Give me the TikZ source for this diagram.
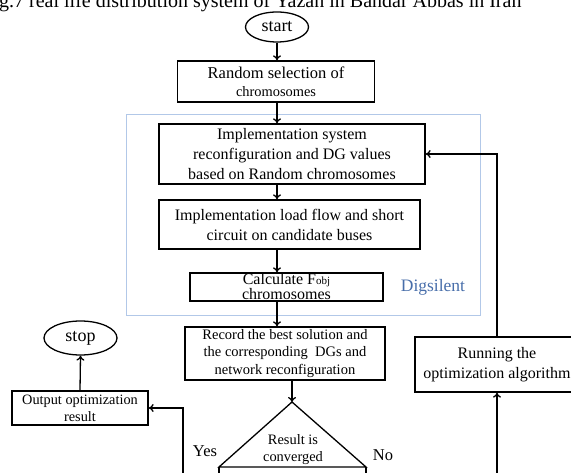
\documentclass[tikz,border=0pt]{standalone}
\usepackage{fontspec}
\setmainfont{Liberation Serif}
\usetikzlibrary{arrows.meta,positioning,shapes.geometric}
\definecolor{digblue}{RGB}{72,110,170}
\definecolor{framblue}{RGB}{178,200,232}

\begin{document}
\begin{tikzpicture}[x=1pt, y=-1pt,
  box/.style={draw, line width=1.3pt, align=center, inner sep=0pt,
    font=\fontsize{16}{20}\selectfont},
  term/.style={draw, ellipse, line width=1.3pt, inner sep=0pt,
    font=\fontsize{18}{20}\selectfont},
  flow/.style={-{To[length=5pt,width=8pt]}, line width=1.3pt}]
  \useasboundingbox (0,0) rectangle (571,473);
  \clip (0,0) rectangle (571,473);
  % caption, cut at the top
  \node[anchor=base west, inner sep=0pt, font=\fontsize{20}{24}\selectfont] (cap) at (-1,8)
    {g.7 real life distribution system of Yazan in Bandar Abbas in Iran};
  % Digsilent frame
  \node[draw=framblue, line width=0.8pt, minimum width=354pt, minimum height=201pt] (frame) at (303,214.5) {};
  \node[text=digblue, font=\fontsize{17.5}{20}\selectfont] (dig) at (433,287) {Digsilent};
  % main column
  \node[term, minimum width=63pt, minimum height=30pt] (start) at (277,27) {start};
  \node[box, minimum width=197pt, minimum height=41pt] (random) at (276,81.5)
    {\fontsize{16.5}{20}\selectfont Random selection of\\[-2pt]{\fontsize{14.4}{16}\selectfont chromosomes}};
  \node[box, minimum width=266pt, minimum height=60pt] (impl) at (292,154)
    {Implementation system\\reconfiguration and DG values\\based on Random chromosomes};
  \node[box, minimum width=261pt, minimum height=49pt] (load) at (289.5,224.5)
    {Implementation load flow and short\\circuit on candidate buses};
  \node[box, minimum width=193pt, minimum height=28pt, inner ysep=-2pt, font=\fontsize{16}{15}\selectfont] (calc) at (286.5,287)
    {Calculate F{\fontsize{11}{12}\selectfont obj}\\chromosomes};
  \node[box, minimum width=200pt, minimum height=53pt, font=\fontsize{14.5}{17.5}\selectfont] (record) at (285,353.5)
    {Record the best solution and\\the corresponding~~DGs and\\network reconfiguration};
  % decision
  \coordinate (dtop) at (292,402);
  \coordinate (dleft) at (219,467);
  \coordinate (dright) at (366,467);
  \draw[line width=1.3pt] (dtop) -- (dleft) -- (dright) -- cycle;
  \draw[line width=1.3pt] (dleft) -- ++(0,20) (dright) -- ++(0,20);
  \node[align=center, inner sep=0pt, font=\fontsize{14.4}{17}\selectfont] (conv) at (293,450) {Result is\\converged};
  \node[font=\fontsize{16.5}{18}\selectfont] (yes) at (205,451) {Yes};
  \node[font=\fontsize{16.5}{18}\selectfont] (no) at (383,455) {No};
  % left side
  \node[box, minimum width=136pt, minimum height=34pt, font=\fontsize{14.3}{17}\selectfont] (output) at (80,408)
    {Output optimization\\result};
  \node[term, minimum width=73pt, minimum height=34pt] (stop) at (80.5,338) {stop};
  % right side
  \node[box, minimum width=164pt, minimum height=55pt] (running) at (497,364.5)
    {Running the\\optimization algorithm};
  \coordinate (yesend) at (183,480);
  \coordinate (noend) at (497,480);
  % connectors
  \draw[flow] (start.south) -- (start.south |- random.north);
  \draw[flow] (start.south |- random.south) -- (start.south |- impl.north);
  \draw[flow] (start.south |- impl.south) -- (start.south |- load.north);
  \draw[flow] (start.south |- load.south) -- (start.south |- calc.north);
  \draw[flow] (start.south |- calc.south) -- (start.south |- record.north);
  \draw[flow] (record.south -| dtop) -- (dtop);
  \draw[flow] (yesend) |- (output.east);
  \draw[flow] (output.north) -- (stop.south);
  \draw[flow] (noend) -- (running.south);
  \draw[flow] (running.north) |- (impl.east);
\end{tikzpicture}
\end{document}
